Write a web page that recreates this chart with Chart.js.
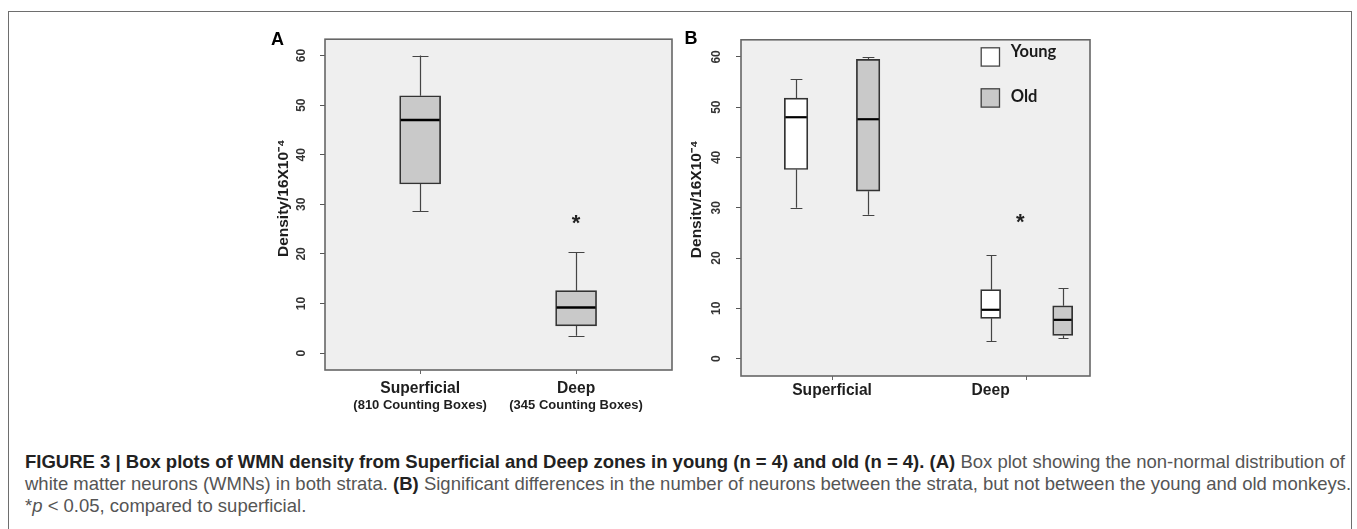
<!DOCTYPE html>
<html><head><meta charset="utf-8">
<script src="https://cdn.jsdelivr.net/npm/chart.js@4.4.0/dist/chart.umd.min.js"></script>
<style>
html,body{margin:0;padding:0;background:#fff;width:1357px;height:529px;overflow:hidden;}
#frame{position:absolute;left:8px;top:11px;width:1344px;height:600px;border:1px solid #6e6e6e;box-sizing:border-box;}
#cA{position:absolute;left:240px;top:20px;}
#cB{position:absolute;left:680px;top:20px;}
#caption{position:absolute;left:25px;top:451px;font-family:"Liberation Sans",Arial,Helvetica,sans-serif;font-size:16px;line-height:22px;color:#555;white-space:nowrap;}
#caption b{color:#222;}
</style></head><body>
<div id="frame"></div>
<canvas id="cA" width="440" height="400"></canvas>
<canvas id="cB" width="430" height="400"></canvas>
<div id="caption">
<div><span id="cap1"><b>FIGURE 3 | Box plots of WMN density from Superficial and Deep zones in young (n = 4) and old (n = 4). (A)</b> Box plot showing the non-normal distribution of</span></div>
<div>white matter neurons (WMNs) in both strata. <b>(B)</b> Significant differences in the number of neurons between the strata, but not between the young and old monkeys.</div>
<div>*<i>p</i> &lt; 0.05, compared to superficial.</div>
</div>
<script>
// ---------------- data ----------------
const yTickValues = [0, 10, 20, 30, 40, 50, 60];
const stratumLabels = ['Superficial', 'Deep'];
const countingBoxLabels = ['(810 Counting Boxes)', '(345 Counting Boxes)'];
const ageGroups = ['Young', 'Old'];

// Panel A: all animals, per stratum
const allMin    = [28.6, 3.5];
const allQ1     = [34.1, 5.5];
const allMedian = [47.0, 9.2];
const allQ3     = [51.9, 12.6];
const allMax    = [60.0, 20.4];

// Panel B: young / old, per stratum
const youngMin    = [30.0, 3.5];
const youngQ1     = [37.6, 8.0];
const youngMedian = [48.0, 9.7];
const youngQ3     = [51.8, 13.7];
const youngMax    = [55.6, 20.5];

const oldMin    = [28.6, 4.0];
const oldQ1     = [33.3, 4.6];
const oldMedian = [47.6, 7.7];
const oldQ3     = [59.5, 10.5];
const oldMax    = [59.9, 14.0];

const starValueA = 25.9;
const starValueB = 26.8;
const yTitleA = 'Density/16X10\u207B\u2074';
const yTitleB = 'Densitv/16X10\u207B\u2074';

// ---------------- layout / style ----------------
const FONT = '"Liberation Sans", Arial, Helvetica, sans-serif';
const GREY_FILL = '#c9c9c9';
const PLOT_BG = '#efefef';

function buildBoxes(list) {
  return list.map(b => ({
    type: 'bar',
    data: [{ x: b.x, y: [b.q1, b.q3] }],
    backgroundColor: b.fill,
    borderColor: '#333333',
    borderWidth: 1.7,
    borderSkipped: false,
    barThickness: b.thick,
    grouped: false,
    stats: b
  }));
}

function extrasPlugin(cfg) {
  return {
    id: 'extras',
    beforeDraw(chart) {
      const { ctx, chartArea: a } = chart;
      ctx.save();
      ctx.fillStyle = PLOT_BG;
      ctx.fillRect(a.left, a.top, a.right - a.left, a.bottom - a.top);
      ctx.restore();
    },
    beforeDatasetsDraw(chart) {
      const { ctx } = chart;
      const xs = chart.scales.x, ys = chart.scales.y;
      ctx.save();
      ctx.strokeStyle = '#444';
      ctx.lineWidth = 1.2;
      chart.data.datasets.forEach(ds => {
        const s = ds.stats;
        const x = Math.round(xs.getPixelForValue(s.x)) + 0.5;
        const half = s.thick * cfg.cap / 2;
        const yMin = ys.getPixelForValue(s.min), yQ1 = ys.getPixelForValue(s.q1);
        const yQ3 = ys.getPixelForValue(s.q3), yMax = ys.getPixelForValue(s.max);
        ctx.beginPath();
        ctx.moveTo(x, yQ1); ctx.lineTo(x, yMin);
        ctx.moveTo(x, yQ3); ctx.lineTo(x, yMax);
        ctx.moveTo(x - half, Math.round(yMin) + 0.5); ctx.lineTo(x + half, Math.round(yMin) + 0.5);
        ctx.moveTo(x - half, Math.round(yMax) + 0.5); ctx.lineTo(x + half, Math.round(yMax) + 0.5);
        ctx.stroke();
      });
      ctx.restore();
    },
    afterDatasetsDraw(chart) {
      const { ctx, chartArea: a } = chart;
      const xs = chart.scales.x, ys = chart.scales.y;
      ctx.save();
      // medians
      ctx.strokeStyle = '#000';
      ctx.lineWidth = cfg.medianWidth;
      chart.data.datasets.forEach(ds => {
        const s = ds.stats;
        const x = xs.getPixelForValue(s.x);
        const y = ys.getPixelForValue(s.median);
        ctx.beginPath();
        ctx.moveTo(x - s.thick / 2 + 1, y); ctx.lineTo(x + s.thick / 2 - 1, y);
        ctx.stroke();
      });
      // plot border
      ctx.strokeStyle = '#666';
      ctx.lineWidth = 1.6;
      ctx.strokeRect(a.left, a.top, a.right - a.left, a.bottom - a.top);
      // significance star
      ctx.fillStyle = '#222';
      ctx.font = 'bold 22px ' + FONT;
      ctx.textAlign = 'center';
      ctx.textBaseline = 'alphabetic';
      ctx.fillText('*', xs.getPixelForValue(cfg.starX), ys.getPixelForValue(cfg.starY) + 5.5);
      ctx.restore();
    },
    afterDraw(chart) {
      const { ctx, chartArea: a } = chart;
      const xs = chart.scales.x;
      ctx.save();
      ctx.fillStyle = '#1e1e1e';
      ctx.textAlign = 'center';
      ctx.textBaseline = 'middle';
      cfg.labelPos.forEach((p, i) => {
        const x = xs.getPixelForValue(p);
        ctx.font = 'bold 15.6px ' + FONT;
        ctx.fillText(stratumLabels[i], x, a.bottom + cfg.labelDy);
        if (cfg.subLabels) {
          ctx.font = 'bold 13px ' + FONT;
          ctx.fillText(cfg.subLabels[i], x, a.bottom + cfg.subDy);
        }
      });
      // panel letter
      ctx.fillStyle = '#000';
      ctx.font = 'bold 18px ' + FONT;
      ctx.fillText(cfg.letter, cfg.letterX, cfg.letterY);
      // legend
      if (cfg.legend) {
        const L = cfg.legend;
        ctx.textAlign = 'left';
        ctx.textBaseline = 'alphabetic';
        ctx.font = 'bold 16.5px Lato, "Open Sans", sans-serif';
        ageGroups.forEach((g, i) => {
          const top = L.top + i * L.step;
          ctx.fillStyle = L.fills[i];
          ctx.fillRect(L.left, top, L.size, L.size);
          ctx.strokeStyle = '#444';
          ctx.lineWidth = 1.3;
          ctx.strokeRect(L.left + 0.5, top + 0.5, L.size - 1, L.size - 1);
          ctx.fillStyle = '#1a1a1a';
          ctx.fillText(g, L.textX, top + L.baseDy[i]);
        });
      }
      ctx.restore();
    }
  };
}

function makeChart(el, boxes, L) {
  return new Chart(el, {
    type: 'bar',
    data: { datasets: buildBoxes(boxes) },
    options: {
      responsive: false,
      animation: false,
      devicePixelRatio: 1,
      layout: { padding: { top: L.padTop, right: L.padRight, left: 0, bottom: 0 } },
      plugins: { legend: { display: false }, tooltip: { enabled: false } },
      scales: {
        x: {
          type: 'linear', min: L.xMin, max: L.xMax, offset: false,
          afterBuildTicks: s => { s.ticks = L.tickPos.map(v => ({ value: v })); },
          afterFit: s => { s.height = L.xHeight; },
          grid: { display: true, offset: false, drawOnChartArea: false, drawTicks: true, tickLength: 4, tickColor: '#666', tickWidth: 1 },
          border: { display: false },
          ticks: { display: false }
        },
        y: {
          type: 'linear', min: L.yMin, max: L.yMax, beginAtZero: false,
          afterBuildTicks: s => { s.ticks = yTickValues.map(v => ({ value: v })); },
          afterFit: s => { s.width = L.yWidth; },
          grid: { display: true, drawOnChartArea: false, drawTicks: true, tickLength: 5, tickColor: '#555', tickWidth: 1 },
          border: { display: false },
          ticks: { minRotation: 90, maxRotation: 90, crossAlign: 'center', padding: L.tickPad, autoSkip: false,
                   font: { family: FONT, size: 12, weight: 'bold' }, color: '#333' },
          title: { display: true, text: L.titleLead + L.title, color: '#1e1e1e',
                   font: { family: FONT, size: 15.5, weight: 'bold' }, padding: { top: L.titlePad, bottom: 0 } }
        }
      }
    },
    plugins: [extrasPlugin(L)]
  });
}

// Panel A
const boxesA = stratumLabels.map((c, i) => ({
  x: [1, 2][i], min: allMin[i], q1: allQ1[i], median: allMedian[i], q3: allQ3[i], max: allMax[i],
  fill: GREY_FILL, thick: 41
}));
makeChart(document.getElementById('cA'), boxesA, {
  xMin: 0.39, xMax: 2.615, yMin: -3.4, yMax: 63.3,
  tickPos: [1, 2], labelPos: [1, 2], subLabels: countingBoxLabels,
  labelDy: 18.3, subDy: 35,
  padTop: 12, padRight: 8, xHeight: 50, yWidth: 85, tickPad: 12, titlePad: 34,
  title: yTitleA, titleLead: '   ', cap: 0.39, medianWidth: 2.6,
  starX: 2, starY: starValueA,
  letter: 'A', letterX: 37.5, letterY: 20
});

// Panel B
const boxesB = [];
stratumLabels.forEach((c, i) => {
  const thick = [23.5, 20][i];
  boxesB.push({ x: [1, 3.7][i], min: youngMin[i], q1: youngQ1[i], median: youngMedian[i], q3: youngQ3[i], max: youngMax[i], fill: '#ffffff', thick });
  boxesB.push({ x: [2, 4.7][i], min: oldMin[i], q1: oldQ1[i], median: oldMedian[i], q3: oldQ3[i], max: oldMax[i], fill: GREY_FILL, thick });
});
makeChart(document.getElementById('cB'), boxesB, {
  xMin: 0.236, xMax: 5.079, yMin: -3.47, yMax: 63.4,
  tickPos: [1.5, 4.2], labelPos: [1.5, 3.7], subLabels: null,
  labelDy: 15,
  padTop: 15, padRight: 20, xHeight: 44, yWidth: 61, tickPad: 12.6, titlePad: 7.5,
  title: yTitleB, titleLead: '    ', cap: 0.5, medianWidth: 2.2,
  starX: 4.11, starY: starValueB,
  letter: 'B', letterX: 11, letterY: 19.5,
  legend: { left: 300.7, top: 27.3, size: 19.3, step: 41, textX: 330.7, fills: ['#ffffff', GREY_FILL], baseDy: [10, 13.4] }
});

// fit caption width
(function () {
  const span = document.getElementById('cap1');
  const w = span.getBoundingClientRect().width;
  if (w > 0) {
    const fs = 16 * 1320 / w;
    document.getElementById('caption').style.fontSize = fs.toFixed(2) + 'px';
  }
})();
</script>
</body></html>
